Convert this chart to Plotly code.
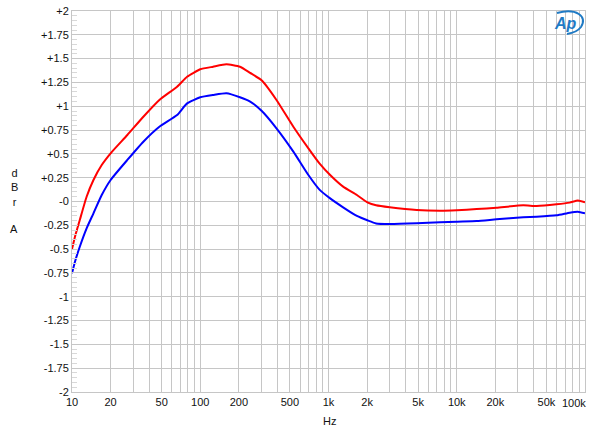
import plotly.graph_objects as go

# ---- data ----
freq_hz = [10, 10.55, 11.5, 13.0, 14.7, 17.05, 20, 27, 36, 48, 66, 79, 100, 126, 160, 204,
           245, 302, 393, 532, 697, 850, 1030, 1300, 1665, 2030, 2350, 3000, 4870, 7400,
           10000, 14300, 20400, 33000, 42000, 60000, 76000, 88000, 100000]
red_dbr = [-0.50, -0.37, -0.195, 0.05, 0.226, 0.383, 0.506, 0.698, 0.89, 1.066, 1.205,
           1.31, 1.388, 1.415, 1.44, 1.415, 1.35, 1.27, 1.066, 0.785, 0.558, 0.40, 0.278,
           0.156, 0.068, -0.012, -0.04, -0.061, -0.09, -0.097, -0.092, -0.08, -0.065,
           -0.04, -0.047, -0.03, -0.012, 0.01, -0.008]
blue_dbr = [-0.754, -0.632, -0.475, -0.282, -0.124, 0.068, 0.226, 0.436, 0.628, 0.785,
            0.908, 1.03, 1.094, 1.118, 1.136, 1.094, 1.048, 0.95, 0.768, 0.523, 0.278,
            0.125, 0.033, -0.061, -0.152, -0.2, -0.23, -0.236, -0.229, -0.219, -0.212,
            -0.205, -0.187, -0.166, -0.16, -0.145, -0.117, -0.107, -0.124]

x_tick_vals = [10, 20, 50, 100, 200, 500, 1000, 2000, 5000, 10000, 20000, 50000, 100000]
x_tick_text = ["10", "20", "50", "100", "200", "500", "1k", "2k", "5k", "10k", "20k", "50k", "100k"]
y_tick_vals = [2 - 0.25 * i for i in range(17)]
y_tick_text = ["+2", "+1.75", "+1.5", "+1.25", "+1", "+0.75", "+0.5", "+0.25", "-0",
               "-0.25", "-0.5", "-0.75", "-1", "-1.25", "-1.5", "-1.75", "-2"]

minor_vals = []
for dec in [10, 100, 1000, 10000]:
    for m in range(1, 10):
        v = m * dec
        if v not in x_tick_vals:
            minor_vals.append(v)

GRID = "#c6c6c6"
FONT = "Liberation Sans, Arial, sans-serif"

fig = go.Figure()
fig.add_trace(go.Scatter(x=freq_hz, y=blue_dbr, mode="lines",
                         line=dict(color="#0000ff", width=2, shape="spline", smoothing=0.5)))
fig.add_trace(go.Scatter(x=freq_hz, y=red_dbr, mode="lines",
                         line=dict(color="#ff0000", width=2, shape="spline", smoothing=0.5)))

fig.update_layout(
    width=600, height=436,
    margin=dict(l=72, r=15, t=11, b=44, autoexpand=False),
    paper_bgcolor="white", plot_bgcolor="white",
    showlegend=False,
    font=dict(family=FONT, size=11, color="#111"),
)
# last label is right-aligned at the edge (drawn as annotation below)
shown_text = x_tick_text[:-1] + [""]
fig.update_xaxes(
    type="log", range=[1, 5], automargin=False,
    tickvals=x_tick_vals, ticktext=shown_text,
    showgrid=True, gridcolor=GRID, gridwidth=1,
    minor=dict(tickvals=minor_vals, showgrid=True, gridcolor=GRID, gridwidth=1, ticklen=0),
    ticks="", zeroline=False,
    showline=True, linecolor=GRID, mirror=True,
    tickfont=dict(size=11, color="#111"),
)
fig.update_yaxes(
    range=[-2, 2], automargin=False,
    tickvals=y_tick_vals, ticktext=y_tick_text,
    showgrid=True, gridcolor=GRID, gridwidth=1,
    ticks="inside", ticklen=6, tickcolor=GRID,
    minor=dict(dtick=0.05, ticks="inside", ticklen=5, tickcolor="#d8d8d8", showgrid=False),
    zeroline=False,
    showline=True, linecolor=GRID, mirror=True,
    tickfont=dict(size=11, color="#111"),
)

def px(xp):
    return (xp - 72) / 513.0

def py(yp):
    return (392 - yp) / 381.0

fig.add_annotation(x=5, xref="x", y=py(403), yref="paper", text=x_tick_text[-1],
                   showarrow=False, xanchor="right", yanchor="middle", xshift=3,
                   font=dict(size=11, color="#111", family=FONT))

common = dict(xref="paper", yref="paper", showarrow=False, xanchor="center", yanchor="middle")
fig.add_annotation(x=px(14), y=py(188), text="d<br>B<br>r", align="center",
                   font=dict(size=11, color="#111", family=FONT), **common)
fig.add_annotation(x=px(14), y=py(229), text="A",
                   font=dict(size=11, color="#111", family=FONT), **common)
fig.add_annotation(x=px(329), y=py(421), text="Hz",
                   font=dict(size=11, color="#111", family=FONT), **common)

# AP logo
fig.add_annotation(x=px(565), y=py(23), text="<b><i>Ap</i></b>",
                   font=dict(size=16, color="#1f7ac4", family=FONT), **common)
path = (f"M {px(557)},{py(13)} C {px(576)},{py(8)} {px(588)},{py(16)} {px(581)},{py(27)} "
        f"C {px(578)},{py(31)} {px(573)},{py(33)} {px(567)},{py(34)}")
fig.add_shape(type="path", path=path, xref="paper", yref="paper",
              line=dict(color="#1f7ac4", width=2))

fig.write_html("out.html")
